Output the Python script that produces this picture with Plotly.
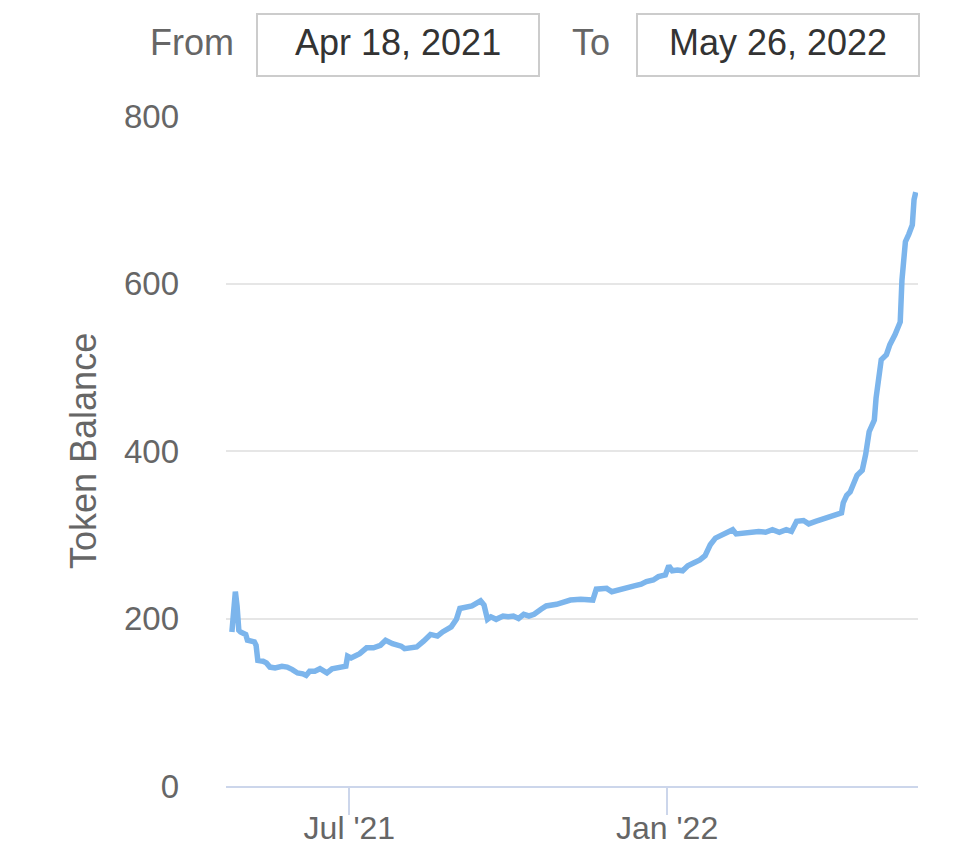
import plotly.graph_objects as go

dates = [
    "2021-04-24", "2021-04-25", "2021-04-26", "2021-04-27", "2021-04-28", "2021-04-29",
    "2021-05-02", "2021-05-03", "2021-05-07", "2021-05-08", "2021-05-09", "2021-05-12",
    "2021-05-14", "2021-05-16", "2021-05-19", "2021-05-23", "2021-05-26", "2021-05-29",
    "2021-06-01", "2021-06-04", "2021-06-06", "2021-06-08", "2021-06-11", "2021-06-14",
    "2021-06-16", "2021-06-18", "2021-06-21", "2021-06-25", "2021-06-27", "2021-06-29",
    "2021-06-30", "2021-07-02", "2021-07-04", "2021-07-07", "2021-07-11", "2021-07-15",
    "2021-07-19", "2021-07-22", "2021-07-26", "2021-07-31", "2021-08-02", "2021-08-05",
    "2021-08-09", "2021-08-13", "2021-08-17", "2021-08-21", "2021-08-24", "2021-08-29",
    "2021-09-01", "2021-09-03", "2021-09-07", "2021-09-10", "2021-09-15", "2021-09-17",
    "2021-09-19", "2021-09-21", "2021-09-24", "2021-09-28", "2021-10-01", "2021-10-04",
    "2021-10-07", "2021-10-10", "2021-10-13", "2021-10-16", "2021-10-20", "2021-10-23",
    "2021-10-29", "2021-11-02", "2021-11-06", "2021-11-12", "2021-11-17", "2021-11-19",
    "2021-11-21", "2021-11-24", "2021-11-27", "2021-11-30", "2021-12-03", "2021-12-07",
    "2021-12-10", "2021-12-13", "2021-12-17", "2021-12-20", "2021-12-24", "2021-12-27",
    "2021-12-31", "2022-01-02", "2022-01-04", "2022-01-07", "2022-01-10", "2022-01-13",
    "2022-01-16", "2022-01-20", "2022-01-23", "2022-01-26", "2022-01-29", "2022-02-01",
    "2022-02-05", "2022-02-08", "2022-02-10", "2022-02-14", "2022-02-18", "2022-02-23",
    "2022-02-27", "2022-03-03", "2022-03-07", "2022-03-11", "2022-03-14", "2022-03-17",
    "2022-03-21", "2022-03-24", "2022-03-28", "2022-04-01", "2022-04-06", "2022-04-09",
    "2022-04-12", "2022-04-13", "2022-04-15", "2022-04-17", "2022-04-19", "2022-04-21",
    "2022-04-24", "2022-04-26", "2022-04-28", "2022-05-01", "2022-05-02", "2022-05-04",
    "2022-05-05", "2022-05-08", "2022-05-10", "2022-05-13", "2022-05-16", "2022-05-17",
    "2022-05-19", "2022-05-21", "2022-05-23", "2022-05-24", "2022-05-25",
]
balance = [
    184, 210, 232, 215, 186, 184,
    181, 174, 172, 168, 150, 149,
    147, 142, 141, 143, 142, 139,
    135, 134, 132, 137, 137, 140,
    137, 135, 140, 141, 143, 143,
    155, 153, 155, 158, 165, 165,
    168, 174, 170, 167, 164, 165,
    166, 173, 181, 179, 184, 190,
    199, 212, 214, 215, 221, 216,
    199, 202, 199, 203, 202, 203,
    200, 205, 203, 205, 211, 215,
    217, 220, 222, 223, 223, 222,
    235, 236, 236, 232, 234, 236,
    238, 239, 241, 244, 246, 250,
    252, 263, 257, 258, 257, 263,
    266, 270, 275, 288, 296, 299,
    303, 306, 301, 302, 303, 304,
    303, 306, 303, 306, 304, 316,
    317, 313, 316, 319, 321, 324,
    326, 338, 347, 351, 362, 371,
    377, 396, 423, 437, 463, 503,
    509, 515, 527, 539, 554, 604,
    650, 659, 670, 700, 709,
]

x_tick_vals = ["2021-07-01", "2022-01-01"]
x_tick_text = ["Jul '21", "Jan '22"]
y_tick_vals = [0, 200, 400, 600, 800]
range_from = "Apr 18, 2021"
range_to = "May 26, 2022"

FONT = "Liberation Sans, Arial, sans-serif"

fig = go.Figure()
fig.add_trace(go.Scatter(
    x=dates, y=balance, mode="lines",
    line=dict(color="#7cb5ec", width=5.5),
    hoverinfo="skip", showlegend=False,
))

OFF = 8  # default page body margin
W, H = 972 - OFF, 855 - OFF
L, T = 226 - OFF, 116 - OFF
R = W - (918 - OFF)
B = H - (786 - OFF)
pw, ph = W - L - R, H - T - B

def px_x(px):
    return (px - OFF - L) / pw

def px_y(py):
    return (H - B - (py - OFF)) / ph

fig.update_layout(
    width=W, height=H,
    margin=dict(l=L, r=R, t=T, b=B),
    plot_bgcolor="white", paper_bgcolor="white",
    font=dict(family=FONT, color="#666666"),
    xaxis=dict(
        type="date", automargin=False,
        range=["2021-04-20 14:00", "2022-05-26 07:00"],
        tickvals=x_tick_vals, ticktext=x_tick_text,
        ticks="outside", ticklen=27, tickwidth=2, tickcolor="#ccd6eb",
        ticklabelstandoff=-14,
        showline=True, linecolor="#ccd6eb", linewidth=2,
        showgrid=False, zeroline=False,
        tickfont=dict(size=32, color="#666666", family=FONT),
    ),
    yaxis=dict(
        range=[0, 800], automargin=False,
        tickvals=y_tick_vals,
        showgrid=True, gridcolor="#e6e6e6", gridwidth=2,
        zeroline=False, showline=False,
        ticks="", ticklabelstandoff=46,
        tickfont=dict(size=33, color="#666666", family=FONT),
    ),
)

# Y-axis title
fig.add_annotation(
    text="Token Balance", xref="paper", yref="paper",
    x=px_x(83), y=px_y(451), textangle=-90, showarrow=False,
    font=dict(size=36, color="#666666", family=FONT),
    xanchor="center", yanchor="middle",
)

# Range selector inputs
for label, lx, box_l, box_r, val in [("From", 192, 257, 539, range_from), ("To", 591, 637, 919, range_to)]:
    fig.add_annotation(
        text=label, xref="paper", yref="paper",
        x=px_x(lx), y=px_y(43), showarrow=False,
        font=dict(size=36, color="#666666", family=FONT),
        xanchor="center", yanchor="middle",
    )
    fig.add_shape(
        type="rect", xref="paper", yref="paper",
        x0=px_x(box_l), x1=px_x(box_r), y0=px_y(76), y1=px_y(14),
        line=dict(color="#cccccc", width=2), fillcolor="white",
    )
    fig.add_annotation(
        text=val, xref="paper", yref="paper",
        x=px_x((box_l + box_r) / 2), y=px_y(43), showarrow=False,
        font=dict(size=36, color="#333333", family=FONT),
        xanchor="center", yanchor="middle",
    )

fig.write_html("out.html")
